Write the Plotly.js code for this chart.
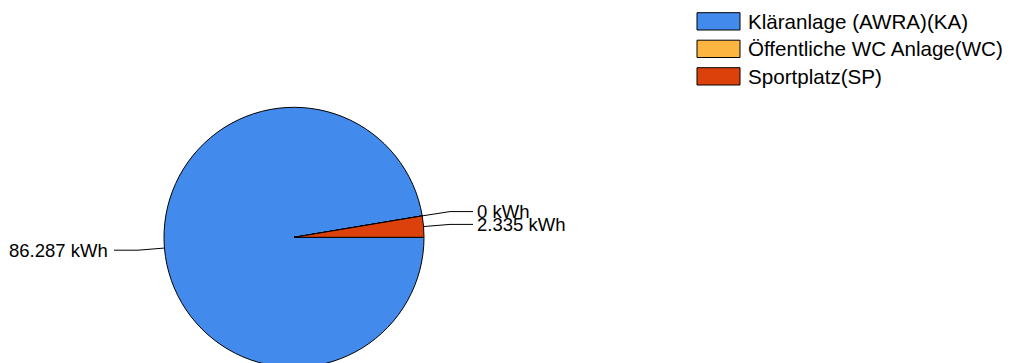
<!DOCTYPE html>
<html><head><meta charset="utf-8">
<script src="https://cdn.plot.ly/plotly-3.0.1.min.js"></script>
<style>html,body{margin:0;padding:0;overflow:hidden;background:#fff}</style>
</head><body><div id="chart" style="width:1013px;height:380px"></div>
<script>
// ---- data ----
const labels = ['Kläranlage (AWRA)(KA)', 'Öffentliche WC Anlage(WC)', 'Sportplatz(SP)'];
const values = [86287, 0, 2335];
const unit = 'kWh';
const colors = ['#428BED', '#FDB541', '#DD410B'];

// ---- layout constants ----
const W = 1013, H = 380;
const cx = 294, cy = 237.3, r = 130;
const FONT = 'Arial, "Liberation Sans", sans-serif';

function fmt(v) {
  return String(Math.round(v)).replace(/\B(?=(\d{3})+(?!\d))/g, '.');
}
const px = x => x / W;
const py = y => 1 - y / H;

const shapes = [];
const annotations = [];

// leader lines + value labels (angles from data, clockwise from 3 o'clock)
const total = values.reduce((a, b) => a + b, 0);
let acc = 0;
values.forEach((v, i) => {
  const mid = (acc + v / 2) / total * 2 * Math.PI;
  acc += v;
  const ex = cx + r * Math.cos(mid), ey = cy + r * Math.sin(mid);
  const side = Math.cos(mid) >= 0 ? 1 : -1;
  const ly = cy + 1.2 * r * Math.sin(mid);
  const bx = cx + side * (r + 26), endx = cx + side * (r + (side > 0 ? 49 : 50));
  const lineStyle = {color: '#000', width: 1};
  shapes.push({type: 'line', xref: 'paper', yref: 'paper', x0: px(ex), y0: py(ey), x1: px(bx), y1: py(ly), line: lineStyle});
  shapes.push({type: 'line', xref: 'paper', yref: 'paper', x0: px(bx), y0: py(ly), x1: px(endx), y1: py(ly), line: lineStyle});
  annotations.push({
    xref: 'paper', yref: 'paper', x: px(endx + side * (side > 0 ? 2 : 4)), y: py(ly),
    xanchor: side > 0 ? 'left' : 'right', yanchor: 'middle',
    text: fmt(v) + ' ' + unit, showarrow: false,
    font: {family: FONT, size: 18.5, color: '#000'}
  });
});

// custom legend with wide swatches
labels.forEach((lab, i) => {
  const top = 12.7 + 27.5 * i;
  shapes.push({type: 'rect', xref: 'paper', yref: 'paper',
    x0: px(697), x1: px(740), y0: py(top), y1: py(top + 17.3),
    fillcolor: colors[i], line: {color: '#000', width: 1}});
  annotations.push({xref: 'paper', yref: 'paper', x: px(746), y: py(top + 8.6),
    xanchor: 'left', yanchor: 'middle', text: lab, showarrow: false,
    font: {family: FONT, size: 20.6, color: '#000'}});
});

const trace = {
  type: 'pie',
  labels: labels,
  values: values,
  sort: false,
  direction: 'clockwise',
  rotation: 90,
  textinfo: 'none',
  hoverinfo: 'none',
  showlegend: false,
  marker: {colors: colors, line: {color: '#000', width: 1}},
  domain: {x: [px(cx - r), px(cx + r)], y: [py(cy + r), py(cy - r)]}
};

const layout = {
  width: W, height: H,
  margin: {l: 0, r: 0, t: 0, b: 0},
  paper_bgcolor: '#fff',
  showlegend: false,
  shapes: shapes,
  annotations: annotations,
  font: {family: FONT}
};

Plotly.newPlot('chart', [trace], layout, {displayModeBar: false, staticPlot: true});
</script>
</body></html>
